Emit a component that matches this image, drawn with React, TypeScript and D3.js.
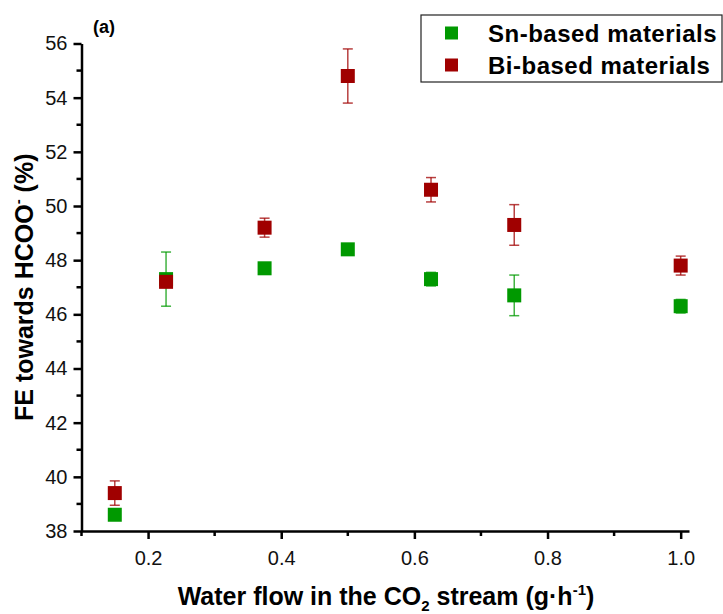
import React, { useEffect, useRef } from 'react';
import * as d3 from 'd3';

// water flow (g/h) for each measurement
const flowValues = [0.15, 0.227, 0.375, 0.5, 0.625, 0.75, 1.0];
const snValues = [38.6, 47.3, 47.7, 48.4, 47.3, 46.7, 46.3];
const snErrors = [0.1, 1.0, 0.1, 0.1, 0.25, 0.75, 0.25];
const biValues = [39.4, 47.2, 49.2, 54.8, 50.6, 49.3, 47.8];
const biErrors = [0.45, 0.15, 0.35, 1.0, 0.45, 0.75, 0.35];

const xMajorTicks = [0.2, 0.4, 0.6, 0.8, 1.0];
const xMinorTicks = [0.1, 0.3, 0.5, 0.7, 0.9];
const yMajorTicks = [38, 40, 42, 44, 46, 48, 50, 52, 54, 56];
const yMinorTicks = [39, 41, 43, 45, 47, 49, 51, 53, 55];

const seriesNames = ['Sn-based materials', 'Bi-based materials'];
const seriesColors = ['#009900', '#a00000'];

const W = 723;
const H = 614;
const FONT = 'Arial, "Liberation Sans", sans-serif';

export default function App() {
  const ref = useRef<SVGSVGElement>(null);

  useEffect(() => {
    if (!ref.current) return;
    const svg = d3.select(ref.current);
    svg.selectAll('*').remove();

    const x = d3.scaleLinear().domain([0.1, 1.0125]).range([81.5, 689]);
    const y = d3.scaleLinear().domain([38, 56]).range([531, 43.5]);

    // x axis
    const gx = svg.append('g').attr('transform', `translate(0,${y(38)})`);
    gx.call(d3.axisBottom(x).tickValues(xMajorTicks).tickFormat(d3.format('.1f')).tickSize(8).tickPadding(12).tickSizeOuter(0));
    gx.call(g => g.select('.domain').attr('stroke-width', 2.5));
    gx.selectAll('.tick line').attr('stroke-width', 2.5);
    gx.selectAll('.tick text').attr('font-size', 20).attr('font-family', FONT).attr('fill', '#111');
    gx.selectAll('.minor').data(xMinorTicks).enter().append('line')
      .attr('x1', d => x(d)).attr('x2', d => x(d)).attr('y1', 0).attr('y2', 5)
      .attr('stroke', '#000').attr('stroke-width', 2.5);

    // y axis
    const gy = svg.append('g').attr('transform', `translate(${x(0.1)},0)`);
    gy.call(d3.axisLeft(y).tickValues(yMajorTicks).tickSize(8).tickPadding(6).tickSizeOuter(0));
    gy.call(g => g.select('.domain').attr('stroke-width', 2.5));
    gy.selectAll('.tick line').attr('stroke-width', 2.5);
    gy.selectAll('.tick text').attr('font-size', 20).attr('font-family', FONT).attr('fill', '#111');
    gy.selectAll('.minor').data(yMinorTicks).enter().append('line')
      .attr('x1', -5).attr('x2', 0).attr('y1', d => y(d)).attr('y2', d => y(d))
      .attr('stroke', '#000').attr('stroke-width', 2.5);

    // data
    const series = [
      { values: snValues, errors: snErrors },
      { values: biValues, errors: biErrors },
    ];
    const size = 14;
    series.forEach((s, si) => {
      const color = seriesColors[si];
      const pts = flowValues.map((f, i) => ({ f, v: s.values[i], e: s.errors[i] }));
      const g = svg.append('g');
      const eb = g.selectAll('.eb').data(pts).enter().append('g').attr('stroke', color).attr('stroke-opacity', 0.75).attr('stroke-width', 1.5);
      eb.append('line').attr('x1', d => x(d.f)).attr('x2', d => x(d.f)).attr('y1', d => y(d.v - d.e)).attr('y2', d => y(d.v + d.e));
      eb.append('line').attr('x1', d => x(d.f) - 5).attr('x2', d => x(d.f) + 5).attr('y1', d => y(d.v - d.e)).attr('y2', d => y(d.v - d.e));
      eb.append('line').attr('x1', d => x(d.f) - 5).attr('x2', d => x(d.f) + 5).attr('y1', d => y(d.v + d.e)).attr('y2', d => y(d.v + d.e));
      g.selectAll('rect').data(pts).enter().append('rect')
        .attr('x', d => x(d.f) - size / 2).attr('y', d => y(d.v) - size / 2)
        .attr('width', size).attr('height', size).attr('fill', color);
    });

    // legend
    const lg = svg.append('g');
    lg.append('rect').attr('x', 421).attr('y', 15).attr('width', 301).attr('height', 67)
      .attr('fill', '#fff').attr('stroke', '#222').attr('stroke-width', 1.2);
    seriesNames.forEach((name, i) => {
      const cy = 33 + i * 32;
      lg.append('rect').attr('x', 445).attr('y', cy - 6.5).attr('width', 13).attr('height', 13).attr('fill', seriesColors[i]);
      lg.append('text').attr('x', 488).attr('y', cy + 8.5).attr('font-size', 24).attr('font-weight', 'bold')
        .attr('letter-spacing', 0.5).attr('font-family', FONT).text(name);
    });

    // panel label
    svg.append('text').attr('x', 93).attr('y', 33).attr('font-size', 18).attr('font-weight', 'bold')
      .attr('font-family', FONT).text('(a)');

    // axis titles
    const xt = svg.append('text').attr('x', 386).attr('y', 605).attr('text-anchor', 'middle')
      .attr('font-size', 25).attr('font-weight', 'bold').attr('font-family', FONT);
    xt.append('tspan').text('Water flow in the CO');
    xt.append('tspan').attr('font-size', 15).attr('dy', 6).text('2');
    xt.append('tspan').attr('dy', -6).text(' stream (g·h');
    xt.append('tspan').attr('font-size', 15).attr('dy', -10).text('-1');
    xt.append('tspan').attr('dy', 10).text(')');

    const yt = svg.append('text').attr('transform', `translate(33,${(y(38) + y(56)) / 2}) rotate(-90)`)
      .attr('text-anchor', 'middle').attr('font-size', 25).attr('font-weight', 'bold').attr('font-family', FONT);
    yt.append('tspan').text('FE towards HCOO');
    yt.append('tspan').attr('font-size', 15).attr('dy', -10).text('-');
    yt.append('tspan').attr('dy', 10).text(' (%)');
  }, []);

  return (
    <svg ref={ref} width={W} height={H} style={{ position: 'absolute', left: 0, top: 0, background: '#fff' }} />
  );
}
